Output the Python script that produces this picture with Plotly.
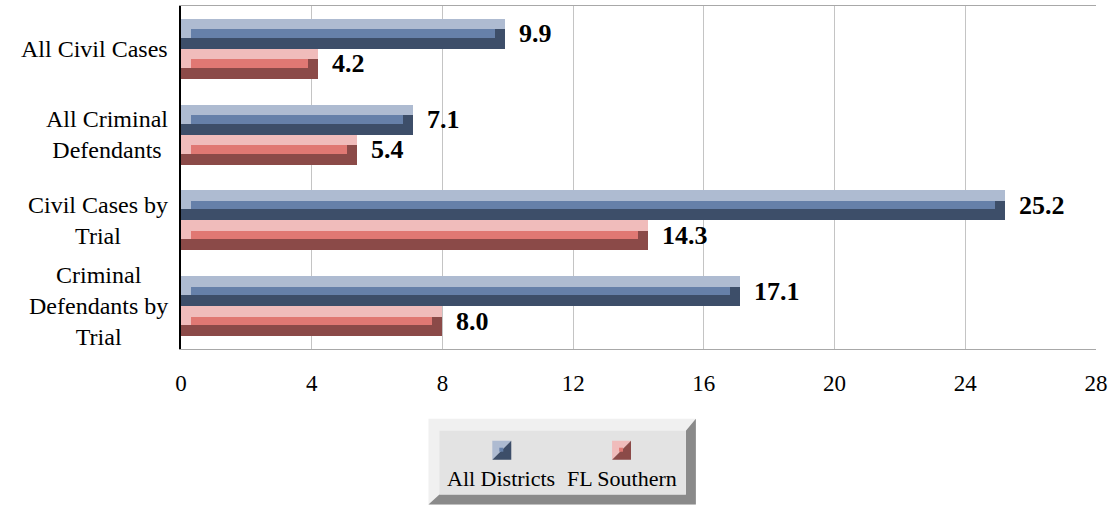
import plotly.graph_objects as go

categories = ["All Civil Cases", "All Criminal<br>Defendants", "Civil Cases by<br>Trial",
              "Criminal<br>Defendants by<br>Trial"]
all_districts = [9.9, 7.1, 25.2, 17.1]
fl_southern = [4.2, 5.4, 14.3, 8.0]
series_names = ["All Districts", "FL Southern"]
x_ticks = [0, 4, 8, 12, 16, 20, 24, 28]

# colours: (light, mid, dark)
blue = ("#aebbd1", "#6680a9", "#3d4e69")
pink = ("#f0bcbb", "#e07873", "#8b4a48")

W, H = 1113, 506
L, R, T, B = 181, 15, 5, 157
PW, PH = W - L - R, H - T - B
XMAX = 28


def px(x):
    return (x - L) / PW


def py(y):
    return (H - B - y) / PH


def path(pts):
    return "M " + " L ".join(f"{px(a):.5f},{py(b):.5f}" for a, b in pts) + " Z"


FONT = "Liberation Serif"
BAR, LIGHT, MID = 0.349, 0.122, 0.099
INSET = 10 * XMAX / PW
ypos = list(range(len(categories)))

fig = go.Figure()
for s, (vals, cols) in enumerate([(all_districts, blue), (fl_southern, pink)]):
    o = -BAR if s == 0 else 0.0
    n = len(vals)
    fig.add_trace(go.Bar(y=ypos, x=vals, orientation="h", offset=o, width=BAR,
                         marker=dict(color=cols[2], line=dict(width=0)),
                         name=series_names[s], hoverinfo="x"))
    fig.add_trace(go.Bar(y=ypos, x=vals, orientation="h", offset=o, width=LIGHT,
                         marker=dict(color=cols[0], line=dict(width=0)), hoverinfo="skip"))
    fig.add_trace(go.Bar(y=ypos, x=[INSET] * n, orientation="h", offset=o, width=LIGHT + MID,
                         marker=dict(color=cols[0], line=dict(width=0)), hoverinfo="skip"))
    fig.add_trace(go.Bar(y=ypos, x=[v - 2 * INSET for v in vals], base=[INSET] * n,
                         orientation="h", offset=o + LIGHT, width=MID,
                         marker=dict(color=cols[1], line=dict(width=0)), hoverinfo="skip"))

annotations = []
for i, cat in enumerate(categories):
    annotations.append(dict(x=0, xref="paper", y=i, yref="y", text=cat, showarrow=False,
                            xanchor="right", xshift=-11, align="center",
                            font=dict(family=FONT, size=24, color="black")))
for s, vals in enumerate([all_districts, fl_southern]):
    for i, v in enumerate(vals):
        annotations.append(dict(x=v, y=i + (-BAR / 2 if s == 0 else BAR / 2),
                                text=f"<b>{v:.1f}</b>", showarrow=False, xanchor="left",
                                xshift=12, font=dict(family=FONT, size=26, color="black")))

# custom legend
shapes = [
    dict(type="path", xref="paper", yref="paper", path=path([(429, 419), (697, 419), (697, 505), (429, 505)]),
         fillcolor="#f0f0f0", line=dict(width=0), layer="above"),
    dict(type="path", xref="paper", yref="paper",
         path=path([(697, 419), (687, 431), (687, 495), (440, 495), (429, 505), (697, 505)]),
         fillcolor="#8a8a8a", line=dict(width=0), layer="above"),
    dict(type="path", xref="paper", yref="paper", path=path([(440, 431), (687, 431), (687, 495), (440, 495)]),
         fillcolor="#e3e3e3", line=dict(width=0), layer="above"),
]
for (x0, cols, name, cx) in [(493, blue, series_names[0], 502), (613, pink, series_names[1], 623)]:
    y0 = 441
    shapes.append(dict(type="path", xref="paper", yref="paper",
                       path=path([(x0, y0), (x0 + 19, y0), (x0, y0 + 19)]),
                       fillcolor=cols[0], line=dict(width=0), layer="above"))
    shapes.append(dict(type="path", xref="paper", yref="paper",
                       path=path([(x0 + 19, y0), (x0 + 19, y0 + 19), (x0, y0 + 19)]),
                       fillcolor=cols[2], line=dict(width=0), layer="above"))
    shapes.append(dict(type="path", xref="paper", yref="paper",
                       path=path([(x0 + 7, y0 + 7), (x0 + 11, y0 + 7), (x0 + 11, y0 + 11), (x0 + 7, y0 + 11)]),
                       fillcolor=cols[1], line=dict(width=0), layer="above"))
    annotations.append(dict(x=px(cx), y=py(479), xref="paper", yref="paper", text=name,
                            showarrow=False, xanchor="center", yanchor="middle",
                            font=dict(family=FONT, size=22, color="black")))

fig.update_layout(
    width=W, height=H, autosize=False,
    margin=dict(l=L, r=R, t=T, b=B, pad=0),
    barmode="overlay", bargap=0,
    plot_bgcolor="white", paper_bgcolor="white",
    showlegend=False,
    annotations=annotations, shapes=shapes,
    xaxis=dict(range=[0, XMAX], tickvals=x_ticks, ticktext=[str(t) for t in x_ticks],
               showgrid=True, gridcolor="#c4c4c4", gridwidth=1, zeroline=False,
               showline=True, linecolor="#a8a8a8", linewidth=1, mirror=True,
               ticks="", ticklabelstandoff=13,
               tickfont=dict(family=FONT, size=23, color="black")),
    yaxis=dict(range=[len(categories) - 0.5, -0.5], showticklabels=False, showgrid=False,
               zeroline=False, showline=True, linecolor="black", linewidth=2, ticks=""),
)

fig.write_html("out.html", config={"displayModeBar": False},
               post_script="document.body.style.margin='0px';")
